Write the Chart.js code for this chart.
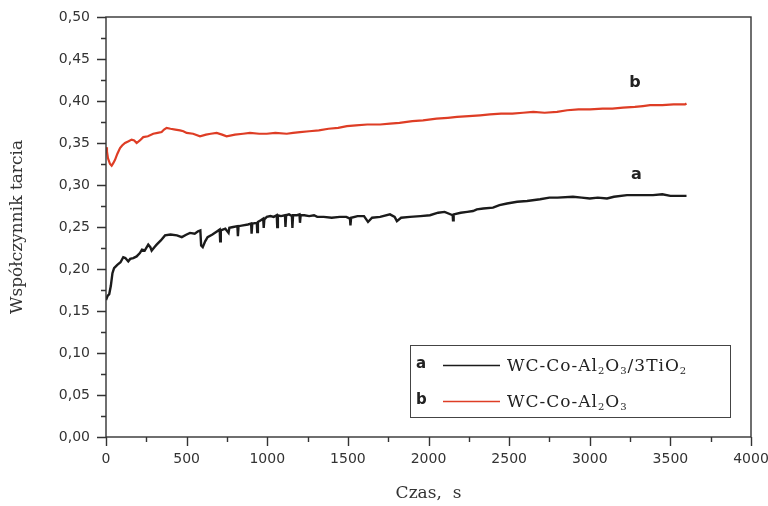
<!DOCTYPE html>
<html>
<head>
<meta charset="utf-8">
<script src="https://cdn.jsdelivr.net/npm/chart.js@4"></script>
<style>
  body { margin: 0; background: #fff; }
</style>
</head>
<body>
<canvas id="frictionChart" width="768" height="506"></canvas>
<script>
// curve a: WC-Co-Al2O3/3TiO2 (time in s, friction coefficient)
var timeA = [0, 10, 20, 30, 40, 50, 70, 90, 107, 120, 138, 150, 169, 190, 210, 223, 240, 262, 275, 283,
    300, 314, 340, 366, 400, 440, 470, 500, 521, 550, 571, 585, 590, 600, 615, 630, 660, 690, 705, 708,
    712, 740, 760, 765, 789, 815, 818, 822, 850, 880, 900, 903, 907, 935, 938, 942, 960, 975, 978, 982,
    997, 1020, 1040, 1059, 1062, 1066, 1085, 1110, 1113, 1117, 1135, 1153, 1156, 1160, 1185, 1200, 1203, 1207, 1230, 1260,
    1290, 1310, 1350, 1400, 1450, 1490, 1513, 1516, 1520, 1560, 1600, 1625, 1650, 1700, 1761, 1790, 1804, 1830, 1885, 1950,
    2009, 2060, 2100, 2150, 2152, 2156, 2200, 2240, 2276, 2300, 2340, 2400, 2440, 2487, 2550, 2611, 2692, 2750, 2800, 2896,
    2950, 3000, 3050, 3107, 3150, 3231, 3300, 3392, 3450, 3500, 3550, 3600];
var coefA = [0.163, 0.168, 0.170, 0.180, 0.195, 0.201, 0.205, 0.208, 0.214, 0.213, 0.209, 0.212, 0.213, 0.215, 0.219, 0.223, 0.222, 0.229, 0.226, 0.222,
    0.226, 0.229, 0.234, 0.240, 0.241, 0.240, 0.238, 0.241, 0.243, 0.242, 0.245, 0.246, 0.228, 0.226, 0.233, 0.238, 0.241, 0.245, 0.247, 0.233,
    0.246, 0.248, 0.243, 0.249, 0.250, 0.251, 0.239, 0.251, 0.252, 0.253, 0.254, 0.242, 0.254, 0.255, 0.244, 0.256, 0.258, 0.260, 0.249, 0.259,
    0.262, 0.263, 0.262, 0.264, 0.250, 0.264, 0.263, 0.264, 0.250, 0.264, 0.265, 0.263, 0.249, 0.264, 0.264, 0.265, 0.255, 0.264, 0.264, 0.263,
    0.264, 0.262, 0.262, 0.261, 0.262, 0.262, 0.260, 0.252, 0.261, 0.263, 0.263, 0.256, 0.261, 0.262, 0.265, 0.262, 0.257, 0.261, 0.262, 0.263,
    0.264, 0.267, 0.268, 0.264, 0.258, 0.265, 0.267, 0.268, 0.269, 0.271, 0.272, 0.273, 0.276, 0.278, 0.280, 0.281, 0.283, 0.285, 0.285, 0.286,
    0.285, 0.284, 0.285, 0.284, 0.286, 0.288, 0.288, 0.288, 0.289, 0.287, 0.287, 0.287];

// curve b: WC-Co-Al2O3
var timeB = [0, 6, 12, 25, 35, 45, 56, 70, 87, 100, 118, 140, 159, 175, 190, 210, 231, 260, 293, 320,
    345, 360, 376, 400, 430, 459, 480, 500, 540, 583, 620, 650, 686, 720, 748, 800, 850, 893, 950, 997,
    1050, 1121, 1160, 1203, 1260, 1320, 1380, 1440, 1494, 1550, 1620, 1700, 1761, 1820, 1900, 1966, 2050, 2120, 2177, 2250,
    2320, 2381, 2450, 2520, 2586, 2650, 2720, 2797, 2860, 2930, 3002, 3080, 3140, 3206, 3280, 3330, 3374, 3450, 3520, 3591, 3600];
var coefB = [0.345, 0.340, 0.332, 0.325, 0.323, 0.326, 0.330, 0.337, 0.344, 0.347, 0.350, 0.352, 0.354, 0.353, 0.350, 0.353, 0.357, 0.358, 0.361, 0.362,
    0.363, 0.366, 0.368, 0.367, 0.366, 0.365, 0.364, 0.362, 0.361, 0.358, 0.360, 0.361, 0.362, 0.360, 0.358, 0.360, 0.361, 0.362, 0.361, 0.361,
    0.362, 0.361, 0.362, 0.363, 0.364, 0.365, 0.367, 0.368, 0.370, 0.371, 0.372, 0.372, 0.373, 0.374, 0.376, 0.377, 0.379, 0.380, 0.381, 0.382,
    0.383, 0.384, 0.385, 0.385, 0.386, 0.387, 0.386, 0.387, 0.389, 0.390, 0.390, 0.391, 0.391, 0.392, 0.393, 0.394, 0.395, 0.395, 0.396, 0.396, 0.397];

var seriesLetters = ['a', 'b'];
var seriesNames = [
    [['WC-Co-Al', 0], ['2', 1], ['O', 0], ['3', 1], ['/3TiO', 0], ['2', 1]],
    [['WC-Co-Al', 0], ['2', 1], ['O', 0], ['3', 1]]
];
var colorA = '#1b1b1b';
var colorB = '#de3d25';

function toPoints(xs, ys) {
    return xs.map(function (x, i) { return { x: x, y: ys[i] }; });
}

// tick marks, frame, curve letters and legend box
var decorPlugin = {
    id: 'decor',
    afterDraw: function (chart) {
        var ctx = chart.ctx;
        var area = chart.chartArea;
        var xs = chart.scales.x;
        var ys = chart.scales.y;
        ctx.save();
        ctx.strokeStyle = '#333';
        ctx.lineWidth = 1.4;
        ctx.strokeRect(area.left, area.top, area.right - area.left, area.bottom - area.top);
        ctx.beginPath();
        for (var i = 0; i <= 16; i++) {
            var px = Math.round(xs.getPixelForValue(i * 250)) + 0.5;
            var len = i % 2 === 0 ? 9 : 5;
            ctx.moveTo(px, area.bottom);
            ctx.lineTo(px, area.bottom + len);
        }
        for (var j = 0; j <= 20; j++) {
            var py = Math.round(ys.getPixelForValue(j * 0.025)) + 0.5;
            var l = j % 2 === 0 ? 9 : 5;
            ctx.moveTo(area.left, py);
            ctx.lineTo(area.left - l, py);
        }
        ctx.stroke();

        // curve letters
        ctx.fillStyle = '#222';
        ctx.font = 'bold 16px "DejaVu Sans"';
        ctx.textAlign = 'center';
        ctx.textBaseline = 'middle';
        ctx.fillText('b', xs.getPixelForValue(3280), ys.getPixelForValue(0.422));
        ctx.fillText('a', xs.getPixelForValue(3290), ys.getPixelForValue(0.312));

        // legend
        var bx = 410, by = 345, bw = 320, bh = 72;
        ctx.lineWidth = 1;
        ctx.strokeStyle = '#444';
        ctx.strokeRect(bx + 0.5, by + 0.5, bw, bh);
        var rows = [365, 401];
        var colors = [colorA, colorB];
        for (var k = 0; k < 2; k++) {
            var ry = rows[k];
            ctx.fillStyle = '#222';
            ctx.font = 'bold 15px "DejaVu Sans"';
            ctx.textAlign = 'left';
            ctx.textBaseline = 'middle';
            ctx.fillText(seriesLetters[k], 416, ry - 1);
            ctx.strokeStyle = colors[k];
            ctx.lineWidth = 1.3;
            ctx.beginPath();
            ctx.moveTo(443, ry + 0.5);
            ctx.lineTo(500, ry + 0.5);
            ctx.stroke();
            var tx = 507;
            ctx.textBaseline = 'alphabetic';
            ctx.letterSpacing = '1px';
            seriesNames[k].forEach(function (seg) {
                if (seg[1]) {
                    ctx.font = '10px "DejaVu Serif"';
                    ctx.fillText(seg[0], tx, ry + 9);
                } else {
                    ctx.font = '17px "DejaVu Serif"';
                    ctx.fillText(seg[0], tx, ry + 6);
                }
                tx += ctx.measureText(seg[0]).width;
            });
            ctx.letterSpacing = '0px';
        }
        ctx.restore();
    }
};

document.addEventListener("DOMContentLoaded", function () {
    var ctx = document.getElementById('frictionChart').getContext('2d');

    var frictionChart = new Chart(ctx, {
        type: 'scatter',
        data: {
            datasets: [{
                label: 'a',
                data: toPoints(timeA, coefA),
                showLine: true,
                borderColor: colorA,
                borderWidth: 2.4,
                pointRadius: 0,
                tension: 0
            }, {
                label: 'b',
                data: toPoints(timeB, coefB),
                showLine: true,
                borderColor: colorB,
                borderWidth: 2.2,
                pointRadius: 0,
                tension: 0
            }]
        },
        options: {
            responsive: false,
            animation: false,
            layout: { padding: { top: 17, right: 17, left: 0, bottom: 0 } },
            plugins: {
                legend: { display: false },
                tooltip: { enabled: false }
            },
            scales: {
                x: {
                    type: 'linear',
                    min: 0,
                    max: 4000,
                    grid: { display: false, drawTicks: false },
                    border: { display: false },
                    ticks: {
                        stepSize: 500,
                        padding: 14,
                        maxRotation: 0,
                        color: '#333',
                        font: { family: 'DejaVu Sans', size: 14 },
                        callback: function (v) { return String(v); }
                    },
                    title: {
                        display: true,
                        text: 'Czas,  s',
                        color: '#333',
                        font: { family: 'DejaVu Serif', size: 17 },
                        padding: { top: 0, bottom: 2 }
                    },
                    afterFit: function (s) {
                        s.height = 69;
                        s.paddingLeft = 0;
                        s.paddingRight = 0;
                    }
                },
                y: {
                    min: 0,
                    max: 0.5,
                    grid: { display: false, drawTicks: false },
                    border: { display: false },
                    ticks: {
                        stepSize: 0.05,
                        padding: 16,
                        color: '#333',
                        font: { family: 'DejaVu Sans', size: 14 },
                        callback: function (v) { return v.toFixed(2).replace('.', ','); }
                    },
                    title: {
                        display: true,
                        text: 'Współczynnik tarcia',
                        color: '#333',
                        font: { family: 'DejaVu Serif', size: 17 },
                        padding: { top: 7, bottom: 0 }
                    },
                    afterFit: function (s) {
                        s.width = 106;
                        s.paddingTop = 0;
                        s.paddingBottom = 0;
                    }
                }
            }
        },
        plugins: [decorPlugin]
    });
});
</script>
</body>
</html>
